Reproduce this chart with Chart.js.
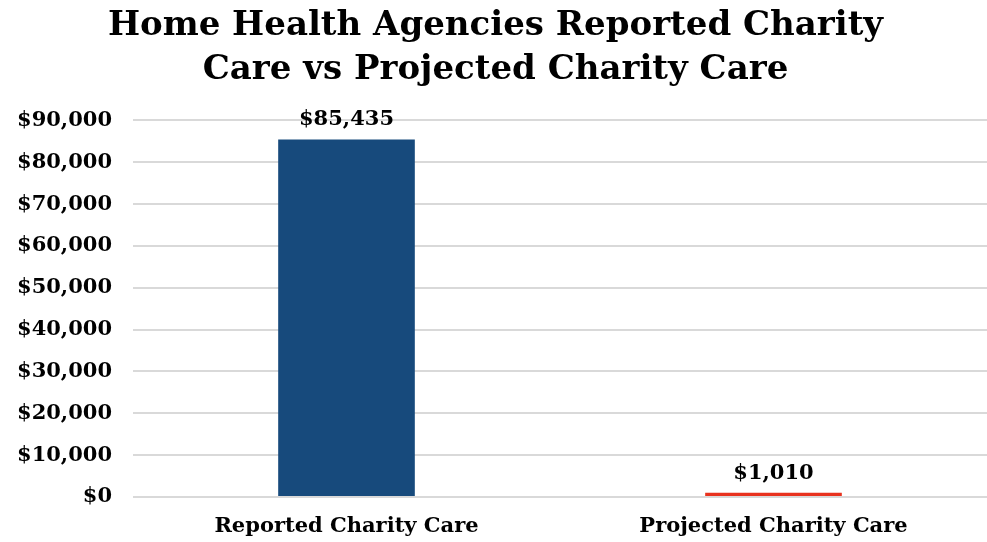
<!DOCTYPE html>
<html>
<head>
<meta charset="utf-8">
<script src="https://cdn.jsdelivr.net/npm/chart.js@4/dist/chart.umd.min.js"></script>
<style>
  html, body { margin: 0; padding: 0; background: #fff; }
  #wrap { width: 987px; height: 542px; }
</style>
</head>
<body>
<div id="wrap"><canvas id="charity" width="987" height="542"></canvas></div>
<script>
const categories = ['Reported Charity Care', 'Projected Charity Care'];
const charityValues = [85435, 1010];
const barColors = ['#174a7c', '#e8321e'];
const titleLines = ['Home Health Agencies Reported Charity', 'Care vs Projected Charity Care'];

const SERIF = "'DejaVu Serif', 'Liberation Serif', serif";

const money = v => '$' + Math.round(v).toLocaleString('en-US');

// prints the dollar amount over each bar
const valueLabels = {
  id: 'valueLabels',
  afterDatasetsDraw(chart) {
    const { ctx } = chart;
    const meta = chart.getDatasetMeta(0);
    ctx.save();
    ctx.font = "bold 21px " + SERIF;
    ctx.fillStyle = '#000';
    ctx.textAlign = 'center';
    ctx.textBaseline = 'bottom';
    meta.data.forEach((bar, i) => {
      ctx.fillText(money(charityValues[i]), bar.x, bar.y - 9);
    });
    ctx.restore();
  }
};

new Chart(document.getElementById('charity'), {
  type: 'bar',
  data: {
    labels: categories,
    datasets: [{
      data: charityValues,
      backgroundColor: barColors,
      borderWidth: 0,
      categoryPercentage: 1,
      barPercentage: 0.32
    }]
  },
  options: {
    responsive: false,
    animation: false,
    layout: { padding: { left: 0, right: -4, top: 0, bottom: 0 } },
    plugins: {
      legend: { display: false },
      tooltip: { enabled: false },
      title: {
        display: true,
        text: titleLines,
        color: '#000',
        font: { family: SERIF, size: 34, weight: 'bold', lineHeight: 1.3 },
        padding: { top: 4, bottom: 28 }
      }
    },
    scales: {
      x: {
        grid: { display: false, drawTicks: false },
        border: { display: false },
        afterFit: scale => { scale.height = 45; },
        ticks: {
          color: '#000',
          maxRotation: 0,
          font: { family: SERIF, size: 21, weight: 'bold' },
          padding: 17
        }
      },
      y: {
        min: 0,
        max: 90000,
        border: { display: false },
        grid: { color: '#d9d9d9', lineWidth: 2, drawTicks: false },
        afterFit: scale => { scale.width = 133; },
        ticks: {
          stepSize: 10000,
          color: '#000',
          padding: 21,
          font: { family: SERIF, size: 21, weight: 'bold' },
          callback: v => money(v)
        }
      }
    }
  },
  plugins: [valueLabels]
});
</script>
</body>
</html>
